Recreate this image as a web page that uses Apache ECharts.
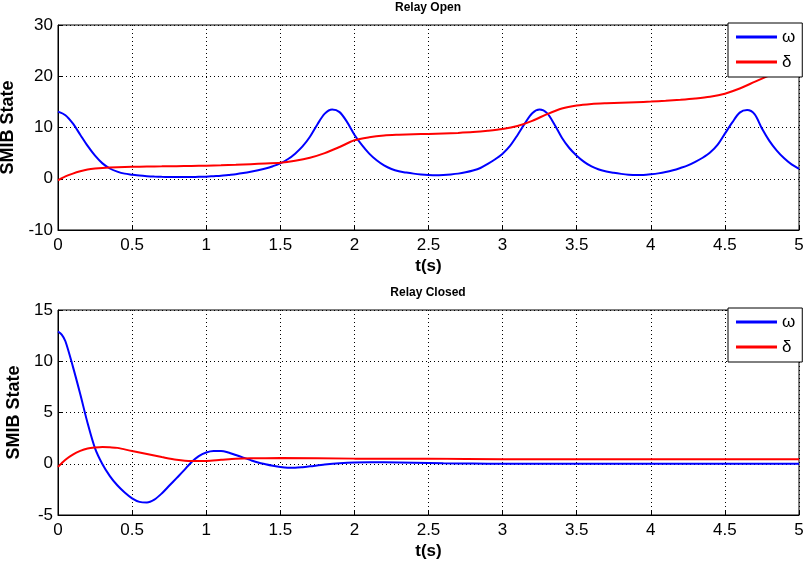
<!DOCTYPE html>
<html>
<head>
<meta charset="utf-8">
<script src="https://cdn.jsdelivr.net/npm/echarts@6/dist/echarts.min.js"></script>
<style>
  html, body { margin: 0; padding: 0; background: #fff; }
  #chart { width: 808px; height: 561px; }
</style>
</head>
<body>
<div id="chart"></div>
<script>
// relay open: omega (rotor speed) and delta (load angle)
const tOmegaOpen = [0, 0.05, 0.1, 0.15, 0.2, 0.25, 0.3, 0.35, 0.4, 0.45, 0.5, 0.55, 0.6, 0.65, 0.7, 0.75, 0.8, 0.85, 0.9, 0.95,
  1.0, 1.05, 1.1, 1.15, 1.2, 1.25, 1.3, 1.35, 1.4, 1.45, 1.5, 1.55, 1.6, 1.65, 1.7, 1.75, 1.8, 1.85, 1.9, 1.95,
  2.0, 2.05, 2.1, 2.15, 2.2, 2.25, 2.3, 2.35, 2.4, 2.45, 2.5, 2.55, 2.6, 2.65, 2.7, 2.75, 2.8, 2.85, 2.9, 2.95,
  3.0, 3.05, 3.1, 3.15, 3.2, 3.25, 3.3, 3.35, 3.4, 3.45, 3.5, 3.55, 3.6, 3.65, 3.7, 3.75, 3.8, 3.85, 3.9, 3.95,
  4.0, 4.05, 4.1, 4.15, 4.2, 4.25, 4.3, 4.35, 4.4, 4.45, 4.5, 4.55, 4.6, 4.65, 4.7, 4.75, 4.8, 4.85, 4.9, 4.95, 5.0];
const omegaOpen = [13.1, 12.4, 10.8, 8.6, 6.4, 4.5, 3.0, 2.0, 1.4, 1.0, 0.8, 0.62, 0.5, 0.42, 0.37, 0.34, 0.33, 0.33, 0.34, 0.37,
  0.4, 0.5, 0.6, 0.75, 0.9, 1.1, 1.35, 1.65, 2.0, 2.45, 3.0, 3.8, 4.9, 6.3, 8.2, 10.6, 12.7, 13.5, 13.0, 11.1,
  8.6, 6.6, 4.9, 3.6, 2.6, 1.9, 1.45, 1.2, 1.0, 0.85, 0.75, 0.7, 0.75, 0.85, 1.0, 1.25, 1.6, 2.1, 2.9, 3.8,
  4.9, 6.4, 8.5, 10.8, 12.8, 13.5, 12.8, 10.6, 8.0, 6.0, 4.5, 3.3, 2.4, 1.8, 1.4, 1.15, 0.95, 0.8, 0.72, 0.75,
  0.88, 1.05, 1.3, 1.65, 2.1, 2.6, 3.3, 4.1, 5.1, 6.6, 8.8, 11.0, 12.9, 13.4, 12.6, 9.8, 7.4, 5.5, 4.0, 2.8, 1.95];
const tDeltaOpen = [0, 0.05, 0.1, 0.15, 0.2, 0.25, 0.3, 0.4, 0.5, 0.6, 0.7, 0.8, 0.9, 1.0, 1.1, 1.2, 1.3, 1.4, 1.5, 1.6, 1.7, 1.8, 1.9,
  2.0, 2.1, 2.2, 2.3, 2.4, 2.5, 2.6, 2.7, 2.8, 2.9, 3.0, 3.1, 3.2, 3.3, 3.4, 3.5, 3.6, 3.7, 3.8, 3.9,
  4.0, 4.1, 4.2, 4.3, 4.4, 4.5, 4.6, 4.7, 4.8, 4.9, 5.0];
const deltaOpen = [-0.3, 0.45, 1.0, 1.45, 1.8, 2.0, 2.12, 2.25, 2.33, 2.38, 2.42, 2.46, 2.5, 2.55, 2.62, 2.72, 2.85, 2.98, 3.1, 3.5, 4.1, 5.0, 6.2,
  7.5, 8.1, 8.45, 8.6, 8.7, 8.75, 8.85, 8.95, 9.1, 9.35, 9.7, 10.3, 11.3, 12.6, 13.7, 14.3, 14.6, 14.75, 14.85, 14.95,
  15.05, 15.2, 15.4, 15.65, 16.0, 16.6, 17.6, 18.9, 20.2, 21.5, 22.7];

// relay closed
const tOmegaClosed = [0, 0.025, 0.05, 0.1, 0.15, 0.2, 0.25, 0.3, 0.35, 0.4, 0.45, 0.5, 0.55, 0.6, 0.65, 0.7, 0.75, 0.8, 0.85, 0.9, 0.95,
  1.0, 1.05, 1.1, 1.15, 1.2, 1.25, 1.3, 1.35, 1.4, 1.45, 1.5, 1.55, 1.6, 1.65, 1.7, 1.8, 1.9, 2.0, 2.1, 2.2,
  2.4, 2.6, 2.8, 3.0, 3.5, 4.0, 4.5, 5.0];
const omegaClosed = [12.9, 12.6, 11.95, 9.5, 6.8, 3.95, 1.5, -0.05, -1.2, -2.1, -2.8, -3.37, -3.72, -3.78, -3.5, -2.9, -2.15, -1.4, -0.65, 0.15, 0.75,
  1.1, 1.25, 1.25, 1.1, 0.85, 0.6, 0.35, 0.12, -0.05, -0.2, -0.32, -0.38, -0.38, -0.33, -0.25, -0.08, 0.05, 0.13, 0.15, 0.14,
  0.1, 0.05, 0.02, 0.0, 0.0, 0.0, 0.0, 0.0];
const tDeltaClosed = [0, 0.05, 0.1, 0.15, 0.2, 0.25, 0.3, 0.35, 0.4, 0.5, 0.6, 0.7, 0.8, 0.9, 1.0, 1.1, 1.2, 1.3, 1.5, 2.0, 2.5, 3.0, 4.0, 5.0];
const deltaClosed = [-0.3, 0.4, 0.9, 1.25, 1.48, 1.58, 1.63, 1.6, 1.55, 1.24, 0.95, 0.65, 0.38, 0.26, 0.28, 0.38, 0.48, 0.53, 0.55, 0.5, 0.5, 0.45, 0.45, 0.45];

const titles = ['Relay Open', 'Relay Closed'];
const yRanges = [[-10, 30, 10], [-5, 15, 5]];
const yNameGaps = [38, 30];

const FONT = 'Liberation Sans, Arial, sans-serif';
const pair = (ts, vs) => ts.map((t, i) => [t, vs[i]]);

const chart = echarts.init(document.getElementById('chart'));

const gridTops = [25, 310];

chart.setOption({
  backgroundColor: '#fff',
  animation: false,
  title: titles.map((text, i) => ({
    text: text,
    left: 428,
    textAlign: 'center',
    top: gridTops[i] - 23,
    padding: 0,
    textStyle: { fontFamily: FONT, fontSize: 12, fontWeight: 'bold', color: '#000' }
  })),
  legend: gridTops.map(top => ({
    data: ['ω', 'δ'],
    orient: 'vertical',
    left: 728,
    top: top - 2,
    padding: [5, 7, 6, 8],
    itemWidth: 41,
    itemHeight: 3,
    itemGap: 7,
    icon: 'rect',
    backgroundColor: '#fff',
    borderColor: '#000',
    borderWidth: 1,
    borderRadius: 0,
    z: 10,
    textStyle: { fontFamily: FONT, fontSize: 17, color: '#000', lineHeight: 18 }
  })),
  grid: gridTops.map(top => ({
    left: 58, right: 9, top: top, height: 205,
    containLabel: false,
    outerBoundsMode: 'none',
    show: true, borderColor: '#000', borderWidth: 1, backgroundColor: '#fff'
  })),
  xAxis: gridTops.map((top, i) => ({
    gridIndex: i,
    type: 'value',
    min: 0, max: 5, interval: 0.5,
    name: 't(s)',
    nameLocation: 'middle',
    nameGap: 28,
    nameTextStyle: { fontFamily: FONT, fontSize: 17, fontWeight: 'bold', color: '#000' },
    axisLine: { onZero: false, lineStyle: { color: '#000', width: 1 } },
    axisTick: { inside: true, length: 5, lineStyle: { color: '#000' } },
    axisLabel: { fontFamily: FONT, fontSize: 17, color: '#000', margin: 7 },
    splitLine: { show: true, lineStyle: { color: '#000', type: [1, 3], width: 1 } }
  })),
  yAxis: yRanges.map((r, i) => ({
    gridIndex: i,
    type: 'value',
    min: r[0], max: r[1], interval: r[2],
    name: 'SMIB State',
    nameLocation: 'middle',
    nameGap: yNameGaps[i],
    nameTextStyle: { fontFamily: FONT, fontSize: 18, fontWeight: 'bold', color: '#000' },
    axisLine: { show: true, onZero: false, lineStyle: { color: '#000', width: 1 } },
    axisTick: { show: true, inside: true, length: 5, lineStyle: { color: '#000' } },
    axisLabel: { fontFamily: FONT, fontSize: 17, color: '#000', margin: 5 },
    splitLine: { show: true, lineStyle: { color: '#000', type: [1, 3], width: 1 } }
  })),
  series: [
    { name: 'ω', type: 'line', xAxisIndex: 0, yAxisIndex: 0, data: pair(tOmegaOpen, omegaOpen), color: '#0000ff' },
    { name: 'δ', type: 'line', xAxisIndex: 0, yAxisIndex: 0, data: pair(tDeltaOpen, deltaOpen), color: '#ff0000' },
    { name: 'ω', type: 'line', xAxisIndex: 1, yAxisIndex: 1, data: pair(tOmegaClosed, omegaClosed), color: '#0000ff' },
    { name: 'δ', type: 'line', xAxisIndex: 1, yAxisIndex: 1, data: pair(tDeltaClosed, deltaClosed), color: '#ff0000' }
  ].map(s => Object.assign(s, {
    showSymbol: false,
    smooth: 0.3,
    lineStyle: { width: 2, color: s.color },
    itemStyle: { color: s.color }
  }))
});
</script>
</body>
</html>
